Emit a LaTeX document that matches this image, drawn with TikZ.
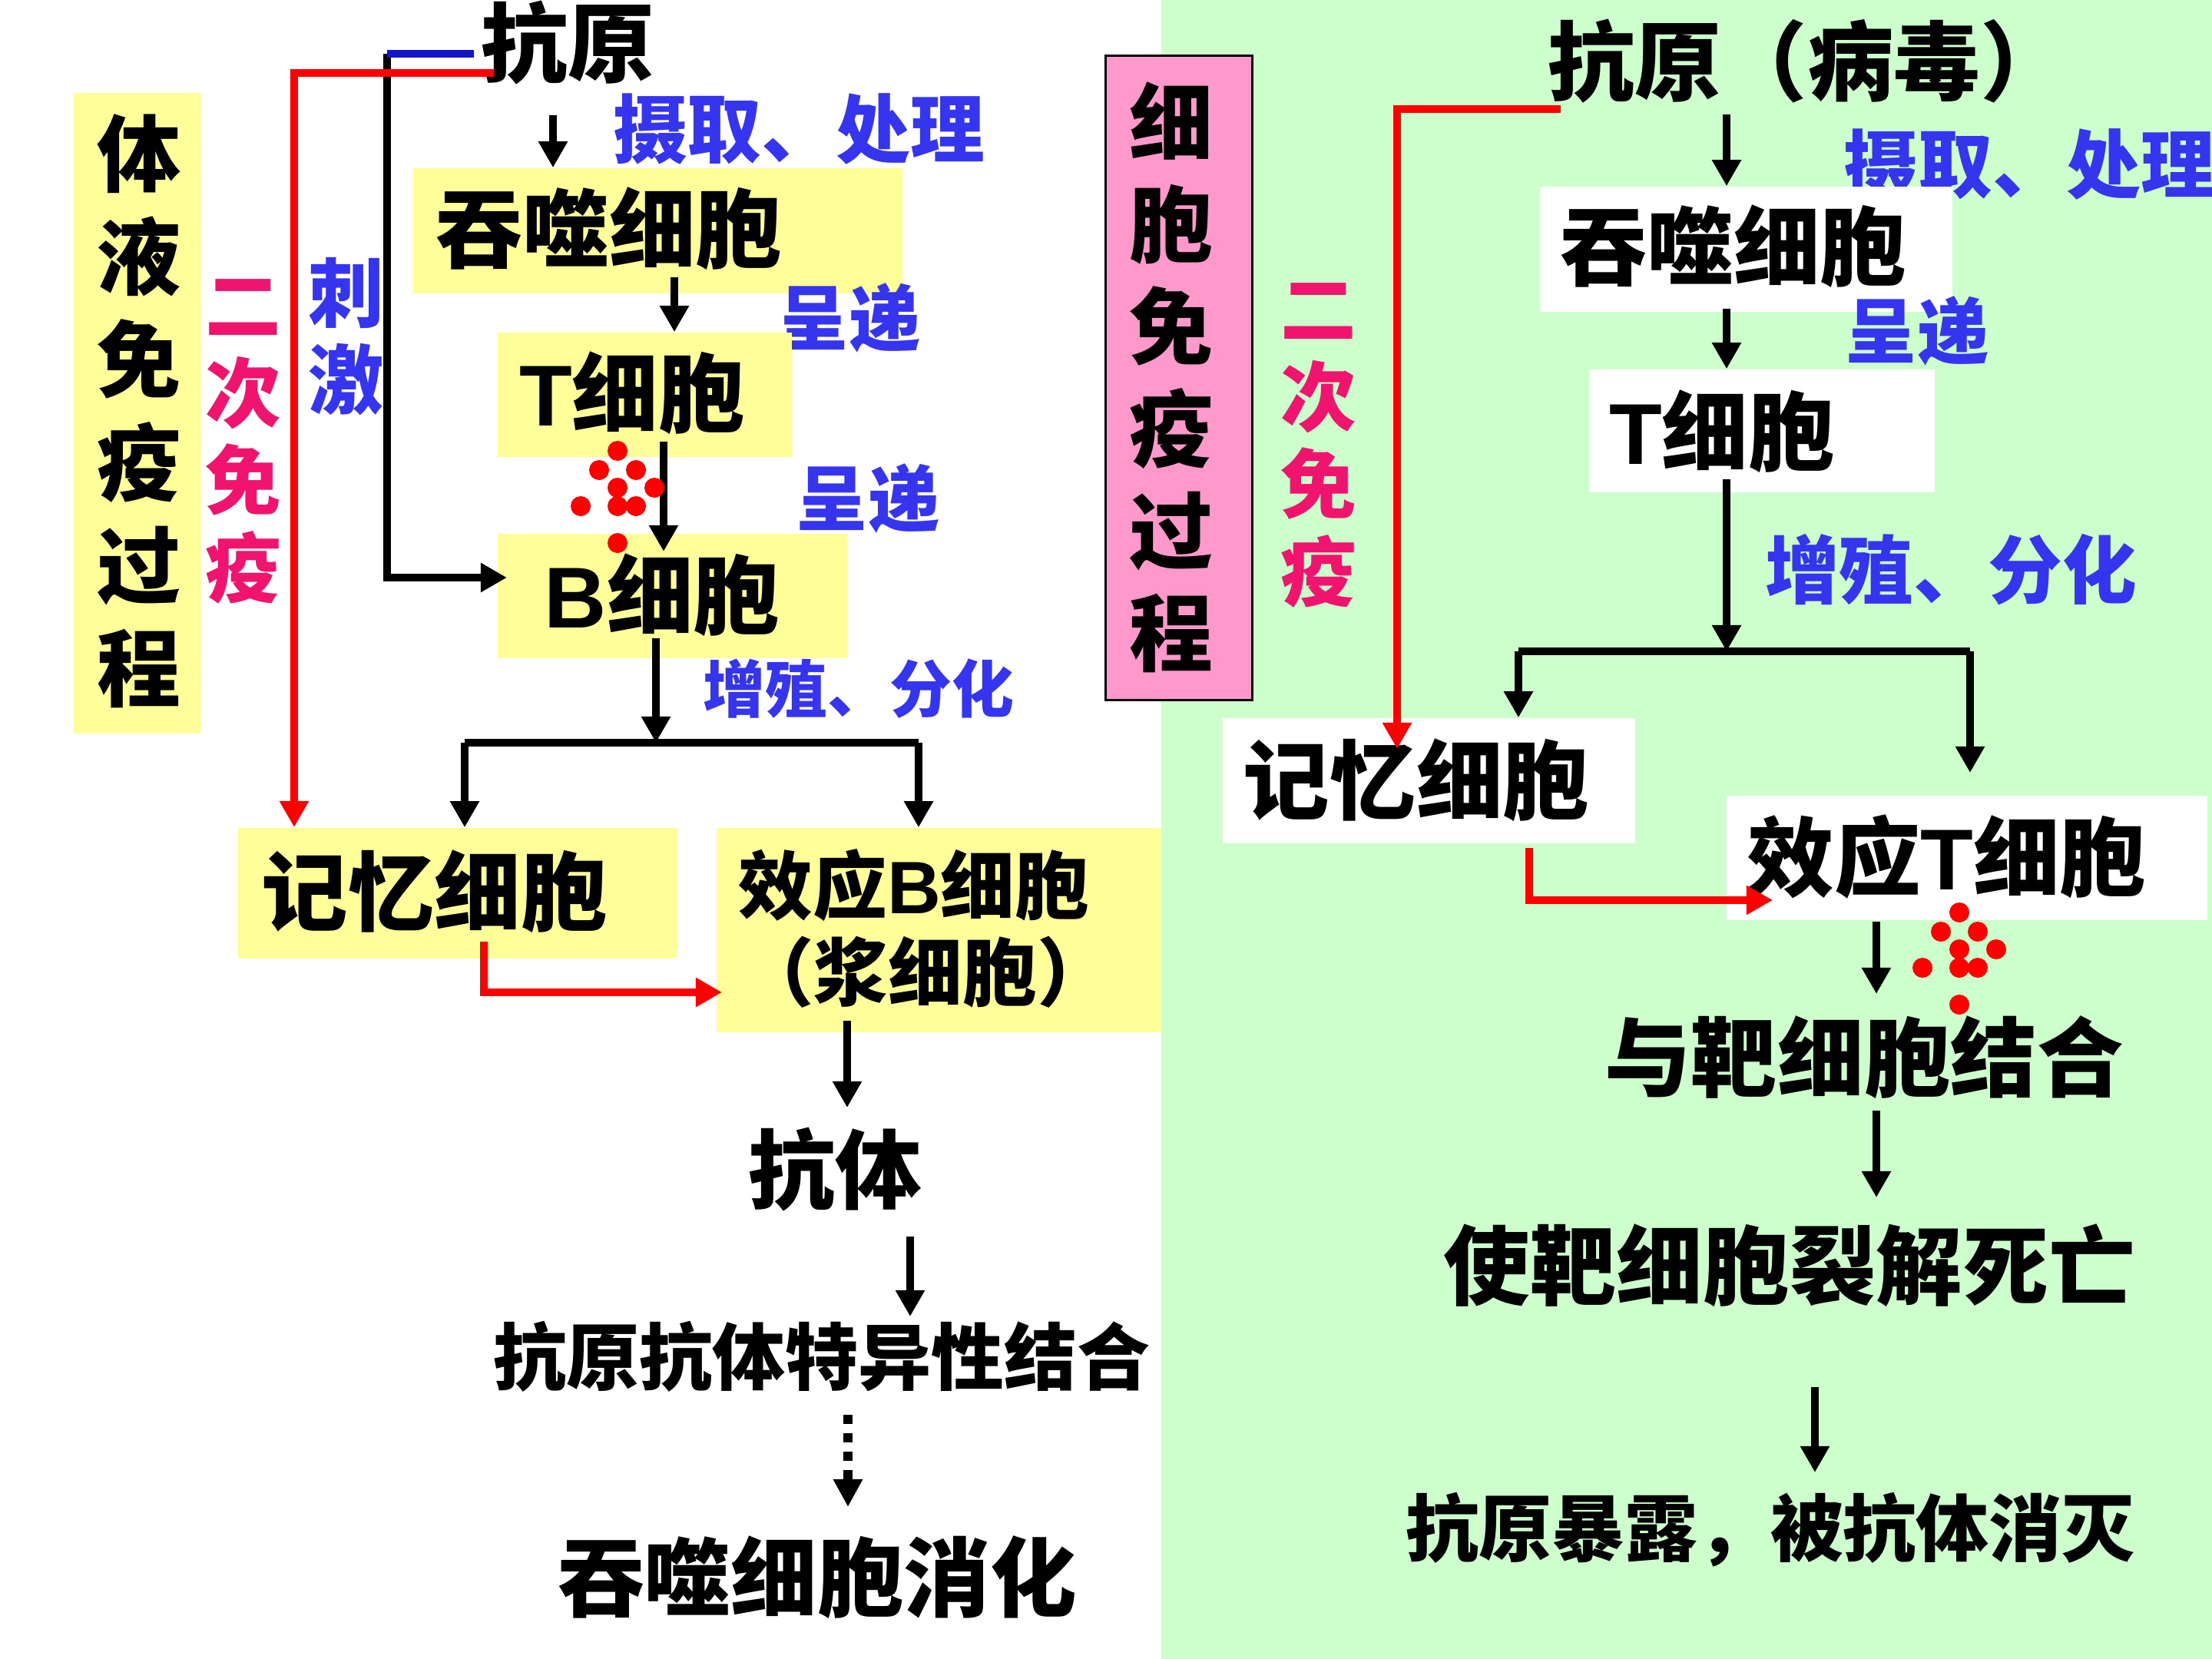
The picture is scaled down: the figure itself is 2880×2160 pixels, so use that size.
\documentclass[tikz,border=0pt]{standalone}
\usepackage{fontspec}
\setmainfont{Noto Sans CJK SC}
\newfontfamily\arl{Liberation Sans}
\usetikzlibrary{arrows.meta}
\definecolor{yfill}{HTML}{FFFF99}
\definecolor{gfill}{HTML}{CCFFCC}
\definecolor{pfill}{HTML}{FF99CC}
\definecolor{bluet}{HTML}{3535F0}
\definecolor{magt}{HTML}{F0146E}
\definecolor{darkblue}{HTML}{1414C8}
\newcommand\F[1]{\fontsize{#1}{#1}\selectfont\bfseries}
\newcommand\V[2]{\fontsize{#1}{#2}\selectfont\bfseries}
\begin{document}
\begin{tikzpicture}[x=0.01cm,y=-0.01cm,
  txt/.style={inner sep=0pt, align=center},
  ybox/.style={fill=yfill, inner sep=0pt},
  wbox/.style={fill=white, inner sep=0pt},
  ln/.style={line width=0.1cm},
  arr/.style={line width=0.1cm, -{Triangle[width=0.36cm,length=0.34cm]}},
  redarr/.style={arr, red},
  dot/.style={fill=red}]
\useasboundingbox (0,0) rectangle (2880,2160);
\fill[white] (0,0) rectangle (2880,2160);
\fill[gfill] (1512,0) rectangle (2880,2160);

% ---------------- left: humoral immunity ----------------
\node[ybox, minimum width=1.65cm, minimum height=8.34cm] (humb) at (178.5,538) {};
\node[txt, font=\V{31}{38.1}] (humt) at (181,535.5) {体\\液\\免\\疫\\过\\程};
\node[txt, text=magt, font=\V{28}{32.4}] (secL) at (317,575) {二\\次\\免\\疫};
\node[txt, text=bluet, font=\V{28}{32.2}] (stim) at (451,438) {刺\\激};
\node[txt, font=\F{32}] (agL) at (739,56) {抗原};

\node[ybox, minimum width=6.37cm, minimum height=1.63cm] (phLb) at (856.5,300.5) {};
\node[txt, font=\F{32}] (phLt) at (793,298) {吞噬细胞};
\node[txt, text=bluet, font=\F{27.5}] (takeL) at (1040,168) {摄取、处理};
\node[txt, text=bluet, font=\F{26.5}] (pres1) at (1105,414) {呈递};

\node[ybox, minimum width=3.83cm, minimum height=1.62cm] (tLb) at (839.5,514) {};
\node[txt, font=\F{32}] (tLt) at (823,512) {{\arl T}细胞};
\node[txt, text=bluet, font=\F{26.5}] (pres2) at (1130,649) {呈递};

\node[ybox, minimum width=4.55cm, minimum height=1.62cm] (bLb) at (875.5,776) {};
\node[txt, font=\F{32}] (bLt) at (862,775) {{\arl B}细胞};
\node[txt, text=bluet, font=\F{23}] (prolL) at (1118,897) {增殖、分化};

\node[ybox, minimum width=5.72cm, minimum height=1.70cm] (memLb) at (596,1163) {};
\node[txt, font=\F{32}] (memLt) at (566,1161) {记忆细胞};
\node[ybox, minimum width=5.79cm, minimum height=2.66cm] (plasb) at (1222.5,1211) {};
\node[txt, font=\F{27.5}] (plas1) at (1190,1153) {效应{\arl B}细胞};
\node[txt, font=\F{27.5}] (plas2) at (1205,1266) {（浆细胞）};

\node[txt, font=\F{32}] (antib) at (1087,1523) {抗体};
\node[txt, font=\F{27}] (bind) at (1070,1766) {抗原抗体特异性结合};
\node[txt, font=\F{32}] (digest) at (1064,2054) {吞噬细胞消化};

% left connectors
\coordinate (bk0) at (504,70);
\coordinate (bk1) at (504,752);
\coordinate (bk2) at (660,752);
\draw[arr] (bk0) -- (bk1) -- (bk2);
\coordinate (bl0) at (617,70);
\draw[ln, darkblue] (bl0) -- (bk0);
\coordinate (rl0) at (643,95);
\coordinate (rl1) at (383,95);
\coordinate (rl2) at (383,1077);
\draw[redarr] (rl0) -- (rl1) -- (rl2);

\coordinate (a1s) at (720,150);
\draw[arr] (a1s) -- (a1s |- phLb.north);
\coordinate (a2s) at (878,361);
\draw[arr] (a2s) -- (a2s |- tLb.north);
\coordinate (a3s) at (864,575);
\coordinate (a3e) at (864,718);
\draw[arr] (a3s) -- (a3e);
\coordinate (a4s) at (854,831);
\coordinate (barL1) at (605,967);
\coordinate (barL2) at (1196,967);
\coordinate (a4e) at (854,967);
\draw[arr] (a4s) -- (a4e);
\draw[ln] (barL1) -- (barL2);
\draw[arr] (barL1) -- (barL1 |- memLb.north);
\draw[arr] (barL2) -- (barL2 |- plasb.north);
\coordinate (r2a) at (630,1226);
\coordinate (r2b) at (630,1292);
\coordinate (r2c) at (940,1292);
\draw[redarr] (r2a) -- (r2b) -- (r2c);
\coordinate (a5s) at (1103,1329);
\coordinate (a5e) at (1103,1442);
\draw[arr] (a5s) -- (a5e);
\coordinate (a6s) at (1185,1610);
\coordinate (a6e) at (1185,1714);
\draw[arr] (a6s) -- (a6e);
\coordinate (a7s) at (1104,1842);
\coordinate (a7e) at (1104,1962);
\draw[line width=0.12cm, dash pattern=on 0.12cm off 0.12cm, -{Triangle[width=0.36cm,length=0.36cm]}] (a7s) -- (a7e);

% ---------------- right: cellular immunity ----------------
\node[fill=pfill, draw=black, line width=0.03cm, inner sep=0pt, minimum width=1.90cm, minimum height=8.38cm] (cellb) at (1535,492) {};
\node[txt, font=\V{31}{37.8}] (cellt) at (1525,491) {细\\胞\\免\\疫\\过\\程};
\node[txt, text=magt, font=\V{28}{32.4}] (secR) at (1717,580) {二\\次\\免\\疫};
\node[txt, font=\F{32}, anchor=west] (agR) at (2015,80) {抗原（病毒）};
\node[txt, text=bluet, font=\F{27.5}, anchor=west] (takeR) at (2400,214) {摄取、处理};

\node[wbox, minimum width=5.37cm, minimum height=1.63cm] (phRb) at (2273.5,324.5) {};
\node[txt, font=\F{32}] (phRt) at (2257,321) {吞噬细胞};
\node[txt, text=bluet, font=\F{26.5}] (pres3) at (2496,431) {呈递};
\node[wbox, minimum width=4.50cm, minimum height=1.60cm] (tRb) at (2294,561) {};
\node[txt, font=\F{32}] (tRt) at (2242,562) {{\arl T}细胞};
\node[txt, text=bluet, font=\F{27.5}] (prolR) at (2540,742) {增殖、分化};

\node[wbox, minimum width=5.37cm, minimum height=1.63cm] (memRb) at (1860.5,1016.5) {};
\node[txt, font=\F{32}] (memRt) at (1844,1016) {记忆细胞};
\node[wbox, minimum width=6.26cm, minimum height=1.62cm] (effTb) at (2561,1117) {};
\node[txt, font=\F{32}] (effTt) at (2535,1115) {效应{\arl T}细胞};

\node[txt, font=\F{32}] (target) at (2427,1377) {与靶细胞结合};
\node[txt, font=\F{32}] (lysis) at (2330,1648) {使靶细胞裂解死亡};
\node[txt, font=\F{27}] (expose) at (2305,1992) {抗原暴露，被抗体消灭};

% right connectors
\coordinate (rr0) at (2032,142);
\coordinate (rr1) at (1819,142);
\coordinate (rr2) at (1819,975);
\draw[redarr] (rr0) -- (rr1) -- (rr2);
\coordinate (b1s) at (2248,149);
\draw[arr] (b1s) -- (b1s |- phRb.north);
\coordinate (b2s) at (2248,402);
\draw[arr] (b2s) -- (b2s |- tRb.north);
\coordinate (b3s) at (2248,624);
\coordinate (barR1) at (1977,848);
\coordinate (barR2) at (2565,848);
\coordinate (b3e) at (2248,848);
\draw[arr] (b3s) -- (b3e);
\draw[ln] (barR1) -- (barR2);
\draw[arr] (barR1) -- (barR1 |- memRb.north);
\coordinate (barR2e) at (2565,1006);
\draw[arr] (barR2) -- (barR2e);
\coordinate (r3a) at (1991,1104);
\coordinate (r3b) at (1991,1172);
\coordinate (r3c) at (2308,1172);
\draw[redarr] (r3a) -- (r3b) -- (r3c);
\coordinate (b4s) at (2443,1200);
\coordinate (b4e) at (2443,1294);
\draw[arr] (b4s) -- (b4e);
\coordinate (b5s) at (2443,1446);
\coordinate (b5e) at (2443,1559);
\draw[arr] (b5s) -- (b5e);
\coordinate (b6s) at (2363,1806);
\coordinate (b6e) at (2363,1917);
\draw[arr] (b6s) -- (b6e);

% red dots (lymphokine / signal)
\foreach \p in {(804,587),(780,612),(828,612),(804,635),(852,635),(756,659),(804,659),(828,659),(804,707),
                (2551,1188),(2527,1213),(2575,1213),(2551,1236),(2599,1236),(2503,1260),(2551,1260),(2575,1260),(2551,1308)}
  \fill[dot] \p circle[radius=0.13cm];
\end{tikzpicture}
\end{document}
